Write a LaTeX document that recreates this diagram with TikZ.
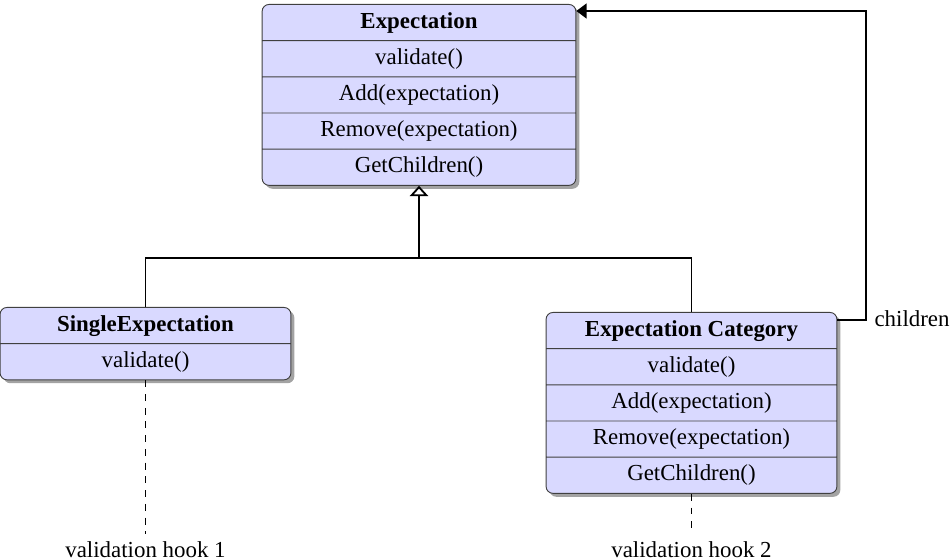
\documentclass[tikz,border=0pt]{standalone}
\usepackage{fontspec}
\setmainfont{Liberation Serif}
\usetikzlibrary{shapes.multipart}
\usetikzlibrary{arrows.meta}
\usetikzlibrary{shadows,calc}

\begin{document}
\begin{tikzpicture}[x=0.4367pt, y=-0.4367pt, thick,
    umlclass/.style={rectangle split, draw=black!75, thin, fill=blue!15,
      rounded corners=3pt, inner ysep=1.7pt, inner xsep=2pt,
      drop shadow={shadow xshift=1.5pt, shadow yshift=-1.5pt, fill=black!45, opacity=0.8}},
    inherit/.style={-{Triangle[open, width=8pt, length=4.5pt]}},
    owns/.style={-{Triangle[width=6.5pt, length=4.5pt]}},
    hook/.style={dashed}]
      \useasboundingbox (0,0) rectangle (951,560);

      % anchors
      \coordinate (top) at (419,4);
      \coordinate (left) at (145.5,307);
      \coordinate (right) at (691.5,312);
      \coordinate (branch) at (419,258);
      \coordinate (loop) at (866,320);

      % classes
      \node [umlclass, rectangle split parts=5, minimum width=137pt, anchor=north]
      (expect) at (top) {\strut\textbf{Expectation}
        \nodepart{two}\strut validate()
        \nodepart{three}\strut Add(expectation)
        \nodepart{four}\strut Remove(expectation)
        \nodepart{five}\strut GetChildren()};
      \node [umlclass, rectangle split parts=2, minimum width=127pt, anchor=north]
      (single) at (left) {\strut\textbf{SingleExpectation}
        \nodepart{two}\strut validate()};
      \node [umlclass, rectangle split parts=5, minimum width=127pt, anchor=north]
      (category) at (right) {\strut\textbf{Expectation Category}
        \nodepart{two}\strut validate()
        \nodepart{three}\strut Add(expectation)
        \nodepart{four}\strut Remove(expectation)
        \nodepart{five}\strut GetChildren()};

      % hooks
      \node [anchor=base, name=hookone] at (single.south |- 0,558) {validation hook 1};
      \node [anchor=base, name=hooktwo] at (category.south |- 0,558) {validation hook 2};
      \node [anchor=base west, name=childlabel] at ($(loop) + (0,7)$) {children};

      % connectors
      \draw (single.north) |- (branch) -| (category.north);
      \draw [inherit] (branch) -- (expect.south);
      \draw [owns] ($(category.north east) + (0,8)$) -- (loop)
      |- ($(expect.north east) + (0,7)$);
      \draw [hook] (single.south) -- (hookone.north);
      \draw [hook] (category.south) -- (hooktwo.north);
    \end{tikzpicture}
\end{document}
